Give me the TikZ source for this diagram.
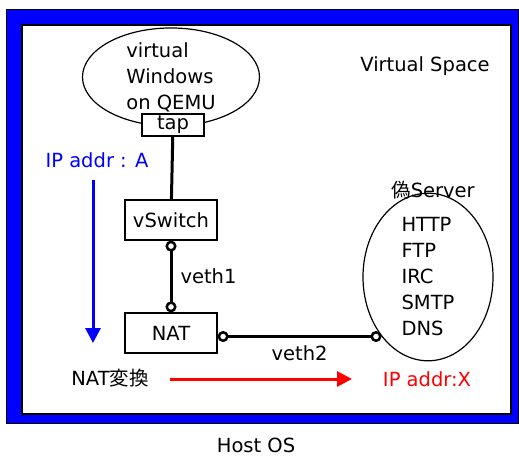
\documentclass[tikz,border=0pt]{standalone}
\usepackage{fontspec}
\setmainfont{DejaVu Sans}
\newfontfamily\cjk{Noto Sans CJK JP}
\usetikzlibrary{arrows.meta, positioning, shapes.geometric}
\tikzset{>={Triangle[length=15pt,width=15pt]},
  port/.tip={Circle[open, fill=white, length=11pt, width=11pt, line width=2.5pt]},
  box/.style={draw, line width=1.2pt, fill=white, minimum width=92pt, minimum height=40pt, inner sep=0pt},
  oval/.style={ellipse, draw, line width=1.2pt, inner sep=0pt, align=left},
  wire/.style={line width=3pt},
  veth/.style={wire, port-port},
  txt/.style={inner sep=0pt}}

\begin{document}
\begin{tikzpicture}[x=1pt, y=-1pt, font=\fontsize{19.5}{26}\selectfont]
\useasboundingbox (0,0) rectangle (519,457);
\draw[fill=blue, line width=1pt] (6,10) rectangle (518,423);
\draw[fill=white, line width=1.2pt] (22,25) rectangle (511,414);

\node[txt] (vspace) at (425,66) {Virtual Space};
\node[txt] (host) at (256,445) {Host OS};

\node[oval, minimum width=177pt, minimum height=87pt] (qemu) at (171,77) {virtual\\Windows\\on QEMU};
\node[box, minimum width=62pt, minimum height=22pt] (tap) at (173,125) {tap};
\node[box] (vsw) at (171,220) {vSwitch};
\node[box] (nat) at (171,333) {NAT};
\node[oval, minimum width=130pt, minimum height=156pt] (srv) at (428,277) {HTTP\\FTP\\IRC\\SMTP\\DNS};
\node[txt] (fake) at (433,190) {{\cjk 偽}Server};

\draw[wire] (tap) -- (vsw);
\draw[veth] (vsw) -- node[right=8pt, txt] {veth1} (nat);
\draw[veth] (srv.232 -| nat.east) -- node[below=8pt, txt] {veth2} (srv.232);

\node[txt, blue] (ipa) at (97,160) {IP addr : A};
\node[txt] (conv) at (110,378) {NAT{\cjk 変換}};
\node[txt, red] (ipx) at (427,379) {IP addr:X};
\coordinate (a1) at (93,180);
\coordinate (a2) at (93,343);
\coordinate (b1) at (170,379);
\coordinate (b2) at (352,379);
\draw[->, blue, line width=3pt] (a1) -- (a2);
\draw[->, red, line width=3pt] (b1) -- (b2);
\end{tikzpicture}
\end{document}
